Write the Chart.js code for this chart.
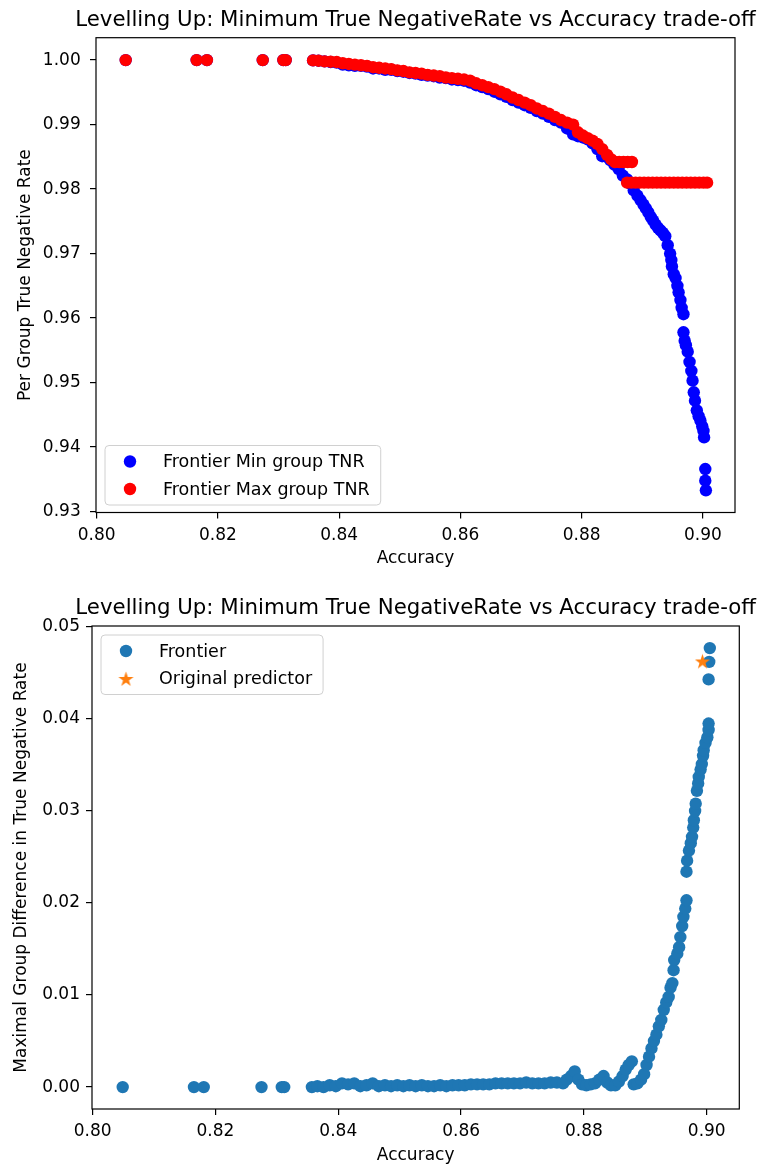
<!DOCTYPE html>
<html>
<head>
<meta charset="utf-8">
<script src="https://cdn.jsdelivr.net/npm/chart.js@4.4.0/dist/chart.umd.min.js"></script>
<style>
  html, body { margin: 0; padding: 0; background: #fff; }
  .panel { position: absolute; left: 0; width: 762px; }
  #topPanel { top: 0; height: 583px; }
  #bottomPanel { top: 583px; height: 584px; }
</style>
</head>
<body>
<div class="panel" id="topPanel"><canvas id="tnrChart" width="762" height="583"></canvas></div>
<div class="panel" id="bottomPanel"><canvas id="diffChart" width="762" height="584"></canvas></div>
<script>
// ---- data ----
const titleText = 'Levelling Up: Minimum True NegativeRate vs Accuracy trade-off';

const xTicks = [0.80, 0.82, 0.84, 0.86, 0.88, 0.90];
const tnrTicks = [0.93, 0.94, 0.95, 0.96, 0.97, 0.98, 0.99, 1.00];
const diffTicks = [0.00, 0.01, 0.02, 0.03, 0.04, 0.05];

// Frontier Min group TNR (blue)
const minAcc = [0.8048, 0.8165, 0.8182, 0.8274, 0.8308, 0.8312,
  0.8357, 0.8366, 0.8376, 0.8386, 0.8396, 0.8406, 0.8416, 0.8426, 0.8436, 0.8446,
  0.8456, 0.8466, 0.8476, 0.8486, 0.8496, 0.8506, 0.8516, 0.8526, 0.8536, 0.8546,
  0.8556, 0.8566, 0.8576, 0.8586, 0.8596, 0.8606, 0.8616, 0.8626, 0.8636, 0.8646,
  0.8656, 0.8666, 0.8676, 0.8686, 0.8696, 0.8706, 0.8716, 0.8726, 0.8736, 0.8746,
  0.8756, 0.8766, 0.8776, 0.8786, 0.8794, 0.8802, 0.8810, 0.8818, 0.8826, 0.8834,
  0.8842, 0.8847, 0.8854, 0.8861, 0.8868, 0.8875, 0.8881, 0.8886, 0.8892, 0.8897,
  0.8902, 0.8906, 0.8910, 0.8914, 0.8918, 0.8922, 0.8926, 0.8930, 0.8934, 0.8938,
  0.8942, 0.8946, 0.8948, 0.8949, 0.8952, 0.8955, 0.8958, 0.8960, 0.8963, 0.8965, 0.8968,
  0.8968, 0.8970, 0.8972, 0.8975, 0.8978, 0.8981, 0.8983, 0.8985, 0.8987, 0.8990,
  0.8993, 0.8996, 0.8999, 0.9001, 0.9002, 0.9004, 0.9004, 0.9005];
const minTnr = [1.0, 1.0, 1.0, 1.0, 1.0, 1.0,
  0.99995, 0.9999, 0.9998, 0.9997, 0.9996, 0.9993, 0.9992, 0.9991, 0.9991, 0.9990,
  0.9987, 0.9987, 0.9985, 0.9985, 0.9983, 0.9982, 0.9980, 0.9979, 0.9977, 0.9976,
  0.9975, 0.9973, 0.9972, 0.9970, 0.9969, 0.9968, 0.9965, 0.9961, 0.9958, 0.9955,
  0.9951, 0.9947, 0.9943, 0.9938, 0.9934, 0.9930, 0.9926, 0.9921, 0.9917, 0.9912,
  0.9907, 0.9903, 0.9894, 0.9885, 0.9882, 0.9880, 0.9877, 0.9871, 0.9862, 0.9851,
  0.9850, 0.9845, 0.9838, 0.9831, 0.9821, 0.9815, 0.9808, 0.9798, 0.9790, 0.9783,
  0.9776, 0.9770, 0.9764, 0.9757, 0.9751, 0.9745, 0.9740, 0.9736, 0.9732, 0.9727,
  0.9713, 0.9700, 0.9690, 0.9680, 0.9668, 0.9662, 0.9650, 0.9640, 0.9628, 0.9616, 0.9606,
  0.9578, 0.9565, 0.9558, 0.9548, 0.9532, 0.9518, 0.9503, 0.9485, 0.9472, 0.9457,
  0.9448, 0.9441, 0.9432, 0.9425, 0.9415, 0.9366, 0.9348, 0.9333];

// Frontier Max group TNR (red)
const maxAcc = [0.8048, 0.8165, 0.8182, 0.8274, 0.8308, 0.8312,
  0.8357, 0.8366, 0.8376, 0.8386, 0.8396, 0.8406, 0.8416, 0.8426, 0.8436, 0.8446,
  0.8456, 0.8466, 0.8476, 0.8486, 0.8496, 0.8506, 0.8516, 0.8526, 0.8536, 0.8546,
  0.8556, 0.8566, 0.8576, 0.8586, 0.8596, 0.8606, 0.8616, 0.8626, 0.8636, 0.8646,
  0.8656, 0.8666, 0.8676, 0.8686, 0.8696, 0.8706, 0.8716, 0.8726, 0.8736, 0.8746,
  0.8756, 0.8766, 0.8776, 0.8786, 0.8794, 0.8802, 0.8810, 0.8818, 0.8826, 0.8834,
  0.8842, 0.8849, 0.8855, 0.8862, 0.8869, 0.8876, 0.8883,
  0.8875, 0.8882, 0.8889, 0.8896, 0.8903, 0.8910, 0.8917, 0.8924, 0.8931, 0.8938,
  0.8945, 0.8952, 0.8959, 0.8966, 0.8973, 0.8980, 0.8987, 0.8994, 0.9001, 0.9007];
const maxTnr = [1.0, 1.0, 1.0, 1.0, 1.0, 1.0,
  0.99995, 0.9999, 0.9998, 0.99975, 0.9997, 0.9995, 0.9994, 0.9993, 0.9992, 0.9991,
  0.9989, 0.9988, 0.9987, 0.9986, 0.9984, 0.9983, 0.9981, 0.9980, 0.9979, 0.9977,
  0.9976, 0.9975, 0.9973, 0.9972, 0.9971, 0.9970, 0.9968, 0.9964, 0.9961, 0.9958,
  0.9955, 0.9951, 0.9947, 0.9942, 0.9938, 0.9934, 0.9930, 0.9925, 0.9921, 0.9917,
  0.9912, 0.9907, 0.9903, 0.9900, 0.9888, 0.9883, 0.9879, 0.9875, 0.9870, 0.9862,
  0.9853, 0.9846, 0.9842, 0.9842, 0.9842, 0.9842, 0.9842,
  0.9810, 0.9810, 0.9810, 0.9810, 0.9810, 0.9810, 0.9810, 0.9810, 0.9810, 0.9810,
  0.9810, 0.9810, 0.9810, 0.9810, 0.9810, 0.9810, 0.9810, 0.9810, 0.9810, 0.9810];

// Frontier: maximal group difference in TNR
const frontierAcc = [0.8049, 0.8165, 0.8181, 0.8275, 0.8308, 0.8312,
  0.8357, 0.8366, 0.8376, 0.8386, 0.8396, 0.8406, 0.8416, 0.8426, 0.8436, 0.8446,
  0.8456, 0.8466, 0.8476, 0.8486, 0.8496, 0.8506, 0.8516, 0.8526, 0.8536, 0.8546,
  0.8556, 0.8566, 0.8576, 0.8586, 0.8596, 0.8606, 0.8616, 0.8626, 0.8636, 0.8646,
  0.8656, 0.8666, 0.8676, 0.8686, 0.8696, 0.8706, 0.8716, 0.8726, 0.8736, 0.8746,
  0.8756, 0.8766, 0.8772, 0.8779, 0.8785, 0.8791, 0.8797, 0.8804, 0.8811, 0.8818,
  0.8825, 0.8832, 0.8838, 0.8844, 0.8851, 0.8857, 0.8863, 0.8868, 0.8873, 0.8878,
  0.8881, 0.8887, 0.8893, 0.8898, 0.8902, 0.8906, 0.8910, 0.8914, 0.8918, 0.8922,
  0.8926, 0.8930, 0.8934, 0.8938, 0.8941, 0.8944, 0.8946, 0.8947, 0.8952, 0.8955,
  0.8957, 0.8960, 0.8962, 0.8965, 0.8967, 0.8967, 0.8968, 0.8971, 0.8974, 0.8976,
  0.8978, 0.8979, 0.8981, 0.8982, 0.8984, 0.8986, 0.8987, 0.8990, 0.8992, 0.8994,
  0.8995, 0.8998, 0.9001, 0.9003, 0.9003, 0.9003, 0.9004, 0.9005];
const frontierDiff = [0, 0, 0, 0, 0, 0,
  0, 0.0001, 0, 0.0002, 0.0001, 0.0004, 0.0003, 0.0004, 0.0001, 0.0002,
  0.0004, 0.0001, 0.0002, 0.0001, 0.0002, 0.0001, 0.0002, 0.0001, 0.0002, 0.0001,
  0.0001, 0.0002, 0.0001, 0.0002, 0.0002, 0.0002, 0.0003, 0.0003, 0.0003, 0.0003,
  0.0004, 0.0004, 0.0004, 0.0004, 0.0004, 0.0005, 0.0004, 0.0004, 0.0004, 0.0005,
  0.0005, 0.0004, 0.0008, 0.0012, 0.0017, 0.0008, 0.0003, 0.0002, 0.0003, 0.0004,
  0.0008, 0.0012, 0.0005, 0.0002, 0.0002, 0.0006, 0.0012, 0.0019, 0.0024, 0.0028,
  0.0003, 0.0004, 0.0008, 0.0014, 0.0024, 0.0033, 0.0042, 0.0050, 0.0057, 0.0066,
  0.0073, 0.0084, 0.0092, 0.0098, 0.0108, 0.0113, 0.0127, 0.0138, 0.0145, 0.0152,
  0.0163, 0.0175, 0.0185, 0.0194, 0.0203, 0.0234, 0.0246, 0.0257, 0.0265, 0.0272,
  0.0282, 0.0290, 0.0300, 0.0308, 0.0322, 0.0330, 0.0337, 0.0345, 0.0351, 0.0360,
  0.0366, 0.0374, 0.0380, 0.0388, 0.0395, 0.0443, 0.0462, 0.0477];

const originalAcc = [0.8993];
const originalDiff = [0.0463];

// ---- helpers ----
Chart.defaults.font.family = '"DejaVu Sans", sans-serif';
Chart.defaults.color = '#000';

const toPoints = (xs, ys) => xs.map((x, i) => ({ x, y: ys[i] }));

// filled five point star like matplotlib's '*' marker
const makeStar = (color, size) => {
  const c = document.createElement('canvas');
  c.width = size;
  c.height = size;
  const g = c.getContext('2d');
  const outer = size / 2 - 0.5;
  const inner = outer * 0.39;
  g.beginPath();
  for (let i = 0; i < 10; i++) {
    const r = i % 2 === 0 ? outer : inner;
    const a = -Math.PI / 2 + (i * Math.PI) / 5;
    const px = size / 2 + r * Math.cos(a);
    const py = size / 2 + 1 + r * Math.sin(a);
    if (i === 0) g.moveTo(px, py); else g.lineTo(px, py);
  }
  g.closePath();
  g.fillStyle = color;
  g.fill();
  return c;
};
const starMarker = makeStar('#ff7f0e', 17);

// box round the plot area and the title above it
const axesFrame = {
  id: 'axesFrame',
  afterDatasetsDraw(chart, args, opts) {
    const { ctx, chartArea: a } = chart;
    ctx.save();
    ctx.strokeStyle = '#000';
    ctx.lineWidth = 1.2;
    ctx.strokeRect(a.left, a.top, a.right - a.left, a.bottom - a.top);
    ctx.font = '21.3px "DejaVu Sans"';
    ctx.fillStyle = '#000';
    ctx.textAlign = 'center';
    ctx.textBaseline = 'middle';
    ctx.fillText(opts.title, (a.left + a.right) / 2, a.top - 17.5);
    ctx.restore();
  }
};

// matplotlib style legend drawn inside the axes
const innerLegend = {
  id: 'innerLegend',
  afterDraw(chart, args, opts) {
    const { ctx, chartArea: a } = chart;
    const items = chart.data.datasets;
    ctx.save();
    ctx.font = '17.5px "DejaVu Sans"';
    const textW = Math.max(...items.map(d => ctx.measureText(d.label).width));
    const w = 58 + textW + 11;
    const h = 59.5;
    const x = a.left + 9;
    const y = opts.corner === 'lower' ? a.bottom - 7.5 - h : a.top + 9;
    const r = 4;
    ctx.beginPath();
    ctx.moveTo(x + r, y);
    ctx.arcTo(x + w, y, x + w, y + h, r);
    ctx.arcTo(x + w, y + h, x, y + h, r);
    ctx.arcTo(x, y + h, x, y, r);
    ctx.arcTo(x, y, x + w, y, r);
    ctx.closePath();
    ctx.fillStyle = 'rgba(255,255,255,0.8)';
    ctx.fill();
    ctx.strokeStyle = '#d0d0d0';
    ctx.lineWidth = 1;
    ctx.stroke();
    items.forEach((d, i) => {
      const cy = y + 16 + i * 27.5;
      const mx = x + 25;
      if (d.pointStyle instanceof HTMLCanvasElement) {
        ctx.drawImage(d.pointStyle, mx - d.pointStyle.width / 2, cy - d.pointStyle.height / 2);
      } else {
        ctx.beginPath();
        ctx.arc(mx, cy, d.pointRadius, 0, Math.PI * 2);
        ctx.fillStyle = d.backgroundColor;
        ctx.fill();
      }
      ctx.fillStyle = '#000';
      ctx.textAlign = 'left';
      ctx.textBaseline = 'middle';
      ctx.fillText(d.label, x + 58, cy + 1);
    });
    ctx.restore();
  }
};

const scatterSet = (label, xs, ys, color, order) => ({
  label,
  data: toPoints(xs, ys),
  backgroundColor: color,
  borderColor: color,
  borderWidth: 0,
  pointRadius: 6.2,
  pointHoverRadius: 6.2,
  order
});

const buildScales = (yTicks, yMin, yMax, yLabel, s) => ({
  x: {
    type: 'linear',
    min: 0.7999,
    max: 0.9053,
    afterBuildTicks: (scale) => { scale.ticks = xTicks.map(v => ({ value: v })); },
    afterFit: (scale) => { scale.height = s.xHeight; },
    ticks: { font: { size: 17 }, padding: 6.5, maxRotation: 0, callback: v => v.toFixed(2) },
    grid: { drawOnChartArea: false, tickLength: 6, color: '#000', lineWidth: 1.2 },
    border: { display: false },
    title: { display: true, text: 'Accuracy', font: { size: 17 }, padding: { top: 0, bottom: s.xTitlePad } }
  },
  y: {
    type: 'linear',
    min: yMin,
    max: yMax,
    afterBuildTicks: (scale) => { scale.ticks = yTicks.map(v => ({ value: v })); },
    afterFit: (scale) => { scale.width = s.yWidth; },
    ticks: { font: { size: 17 }, padding: s.yTickPad, callback: v => v.toFixed(2) },
    grid: { drawOnChartArea: false, tickLength: 6, color: '#000', lineWidth: 1.2 },
    border: { display: false },
    title: { display: true, text: yLabel, font: { size: 17 }, padding: { top: s.yTitlePad, bottom: 0 } }
  }
});

// ---- top: per group TNR ----
new Chart(document.getElementById('tnrChart'), {
  type: 'scatter',
  data: {
    datasets: [
      scatterSet('Frontier Min group TNR', minAcc, minTnr, '#0000ff', 1),
      scatterSet('Frontier Max group TNR', maxAcc, maxTnr, '#ff0000', 0)
    ]
  },
  options: {
    responsive: false,
    animation: false,
    events: [],
    layout: { padding: { left: 0, right: 27, top: 37.7, bottom: 0 } },
    scales: buildScales(tnrTicks, 0.92986, 1.00347, 'Per Group True Negative Rate',
      { xHeight: 70.5, xTitlePad: 13.8, yWidth: 96, yTickPad: 9.3, yTitlePad: 15.3 }),
    plugins: {
      legend: { display: false },
      tooltip: { enabled: false },
      axesFrame: { title: titleText },
      innerLegend: { corner: 'lower' }
    }
  },
  plugins: [axesFrame, innerLegend]
});

// ---- bottom: maximal group difference ----
new Chart(document.getElementById('diffChart'), {
  type: 'scatter',
  data: {
    datasets: [
      scatterSet('Frontier', frontierAcc, frontierDiff, '#1f77b4', 1),
      Object.assign(scatterSet('Original predictor', originalAcc, originalDiff, '#ff7f0e', 0),
        { pointStyle: starMarker })
    ]
  },
  options: {
    responsive: false,
    animation: false,
    events: [],
    layout: { padding: { left: 0, right: 22.7, top: 43, bottom: 0 } },
    scales: buildScales(diffTicks, -0.00238, 0.0501, 'Maximal Group Difference in True Negative Rate',
      { xHeight: 58, xTitlePad: 0.8, yWidth: 92, yTickPad: 6, yTitlePad: 11.3 }),
    plugins: {
      legend: { display: false },
      tooltip: { enabled: false },
      axesFrame: { title: titleText },
      innerLegend: { corner: 'upper' }
    }
  },
  plugins: [axesFrame, innerLegend]
});
</script>
</body>
</html>
